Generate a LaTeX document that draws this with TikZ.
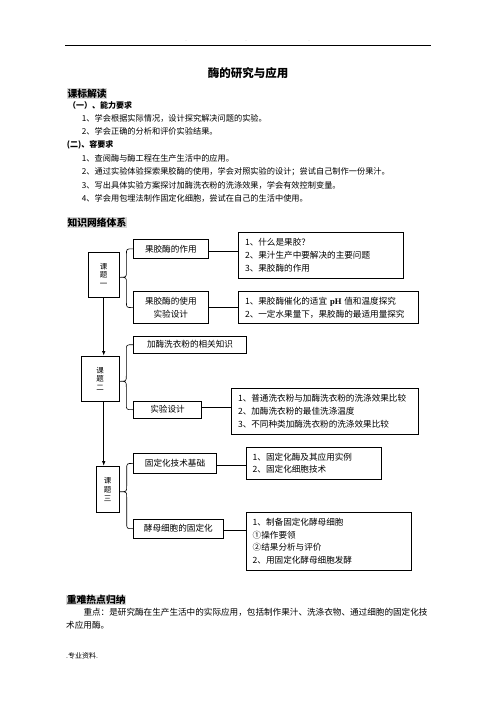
\documentclass[tikz,border=0pt]{standalone}
\usepackage{fontspec}
\setmainfont{Liberation Serif}
\newfontfamily\cjk{Noto Sans CJK SC}
\usetikzlibrary{arrows.meta,calc}

\begin{document}
\begin{tikzpicture}[x=1pt,y=-1pt,
		bodytext/.style={anchor=west, inner sep=0pt, font=\cjk\fontsize{8.2}{10}\selectfont},
		headtext/.style={anchor=west, inner sep=0.6pt, fill=black!15, font=\cjk\bfseries\fontsize{9.8}{11}\selectfont},
		subhead/.style={anchor=west, inner sep=0pt, font=\cjk\bfseries\fontsize{8}{10}\selectfont},
		topicbox/.style={draw, line width=0.7pt, inner sep=0pt, align=center, font=\cjk\fontsize{7.5}{8.8}\selectfont},
		itembox/.style={draw, line width=0.7pt, inner sep=0pt, align=center, font=\cjk\fontsize{8.6}{13}\selectfont},
		listbox/.style={draw, line width=0.7pt, inner sep=0pt, align=left, font=\cjk\fontsize{8.6}{12.8}\selectfont},
		link/.style={line width=0.7pt},
		trunk/.style={line width=0.7pt, -{Latex[length=4.5pt,width=3.5pt]}},
		bracket/.style={line width=0.6pt}]
		\useasboundingbox (0,0) rectangle (496,702);
		
		% page header
		\draw[line width=0.6pt] (65,45) -- (431,45);
		\node[font=\fontsize{3}{3}\selectfont, text=black!60] (h1) at (186,41.5) {-};
		\node[font=\fontsize{3}{3}\selectfont, text=black!60] (h2) at (246,41.5) {-};
		\node[font=\fontsize{3}{3}\selectfont, text=black!60] (h3) at (309,41.5) {..};
		
		\node[font=\cjk\bfseries\fontsize{11.5}{13}\selectfont] (title) at (248,73) {酶的研究与应用};
		
		% requirements
		\node[headtext] (kbjd) at (66.7,93.5) {课标解读};
		\node[subhead] (req1) at (68,105) {（一）、能力要求};
		\node[bodytext] (r11) at (81.7,118.3) {1、学会根据实际情况，设计探究解决问题的实验。};
		\node[bodytext] (r12) at (81.7,131.6) {2、学会正确的分析和评价实验结果。};
		\node[subhead] (req2) at (66.7,145) {(二)、容要求};
		\node[bodytext] (r21) at (81.7,158.3) {1、查阅酶与酶工程在生产生活中的应用。};
		\node[bodytext] (r22) at (81.7,171.6) {2、通过实验体验探索果胶酶的使用，学会对照实验的设计；尝试自己制作一份果汁。};
		\node[bodytext] (r23) at (81.7,185) {3、写出具体实验方案探讨加酶洗衣粉的洗涤效果，学会有效控制变量。};
		\node[bodytext] (r24) at (81.7,198.3) {4、学会用包埋法制作固定化细胞，尝试在自己的生活中使用。};
		
		\node[headtext] (zswl) at (66.7,222.5) {知识网络体系};
		
		% topics
		\node[topicbox, minimum width=30.7pt, minimum height=45pt] (k1) at (103.7,274.8) {课\\题\\一};
		\node[topicbox, minimum width=37.5pt, minimum height=45.7pt] (k2) at (100.2,378.8) {课\\题\\二};
		\node[topicbox, minimum width=23.3pt, minimum height=46.3pt] (k3) at (107.7,489.2) {课\\题\\三};
		
		\draw[trunk] (k1.south) -- (k1.south |- k2.north);
		\draw[trunk] (k1.south |- k2.south) -- (k1.south |- k3.north);
		
		% topic one
		\node[itembox, minimum width=75pt, minimum height=19pt] (a1) at (170.8,248.8) {果胶酶的作用};
		\node[itembox, minimum width=75pt, minimum height=31.8pt] (b1) at (170.8,307.6) {果胶酶的使用\\实验设计};
		\node[listbox, minimum width=164.6pt, minimum height=46pt, text width=152pt] (c1) at (321,255.3)
			{1、什么是果胶？\\2、果汁生产中要解决的主要问题\\3、果胶酶的作用};
		\node[listbox, minimum width=179.6pt, minimum height=31.6pt, text width=167pt] (d1) at (328.5,307.5)
			{1、果胶酶催化的适宜 {\rmfamily\bfseries pH} 值和温度探究\\2、一定水果量下，果胶酶的最适用量探究};
		\draw[link] ([yshift=-3pt]a1.east) -- ([yshift=-3pt]a1.east -| c1.west);
		\draw[link] (b1.east) -- (b1.east -| d1.west);
		
		% topic two
		\node[itembox, minimum width=113.4pt, minimum height=17.3pt] (a2) at (190,344.7) {加酶洗衣粉的相关知识};
		\node[itembox, minimum width=68.4pt, minimum height=17.3pt] (b2) at (167.5,409.7) {实验设计};
		\node[listbox, minimum width=186.6pt, minimum height=46pt, text width=174pt] (d2) at (325,411.3)
			{1、普通洗衣粉与加酶洗衣粉的洗涤效果比较\\2、加酶洗衣粉的最佳洗涤温度\\3、不同种类加酶洗衣粉的洗涤效果比较};
		\draw[link, line width=1.1pt] ([yshift=2pt]b2.east) -- ([yshift=2pt]b2.east -| d2.west);
		
		% topic three
		\node[itembox, minimum width=83.4pt, minimum height=19.8pt] (a3) at (175,463.4) {固定化技术基础};
		\node[itembox, minimum width=90pt, minimum height=19.3pt] (b3) at (178.3,528.7) {酵母细胞的固定化};
		\node[listbox, minimum width=135pt, minimum height=32pt, text width=123pt] (c3) at (314.2,463.3)
			{1、固定化酶及其应用实例\\2、固定化细胞技术};
		\node[listbox, minimum width=165pt, minimum height=57.7pt, text width=153pt] (d3) at (329.2,541.2)
			{1、制备固定化酵母细胞\\①操作要领\\②结果分析与评价\\2、用固定化酵母细胞发酵};
		\draw[link] ([yshift=-2pt]a3.east) -- ([yshift=-2pt]a3.east -| c3.west);
		\draw[link] ([yshift=-2pt]b3.east) -- ([yshift=-2pt]b3.east -| d3.west);
		
		% braces from each topic to its two items
		\foreach \k/\a/\b in {k1/a1/b1,k2/a2/b2,k3/a3/b3}
			\draw[bracket] let \p1=(\k.east), \p2=(\a.west), \p3=(\b.west) in
				(\x2,\y2) .. controls (\x1+7pt,\y2) .. (\x1+7pt,\y2-6pt)
				-- (\x1+7pt,\y1+3pt) .. controls (\x1+7pt,\y1-2.5pt) .. (\x1,\y1-2.5pt)
				.. controls (\x1+7pt,\y1-2.5pt) .. (\x1+7pt,\y1-8pt)
				-- (\x1+7pt,\y3+6pt) .. controls (\x1+7pt,\y3) .. (\x2,\y3);
		
		% key points
		\node[headtext] (zdnd) at (66,600) {重难热点归纳};
		\node[bodytext, font=\cjk\fontsize{8.6}{10}\selectfont] (zd1) at (83.3,612.3) {重点：是研究酶在生产生活中的实际应用，包括制作果汁、洗涤衣物、通过细胞的固定化技};
		\node[bodytext, font=\cjk\fontsize{8.6}{10}\selectfont] (zd2) at (66,625) {术应用酶。};
		
		\node[bodytext, font=\cjk\fontsize{7}{8}\selectfont] (foot) at (66,655.7) {.专业资料.};
	\end{tikzpicture}
\end{document}
